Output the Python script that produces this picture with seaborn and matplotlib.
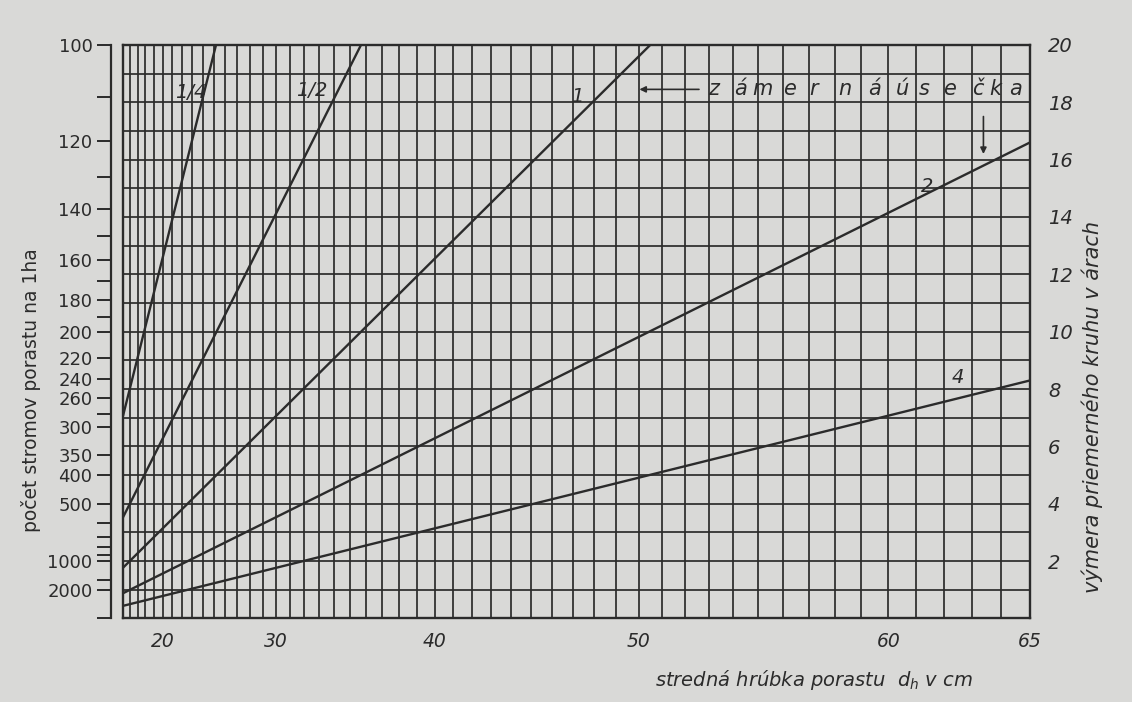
"""
plot.py
Nomogram: number of trees per ha vs. mean stand diameter, with the
area of the average sample circle on the right.
"""
import numpy as np
import pandas as pd
import matplotlib
matplotlib.use('Agg')
import matplotlib.pyplot as plt
import seaborn as sns
from matplotlib.ticker import FixedLocator, FixedFormatter, NullFormatter

# --- data --------------------------------------------------------------
# straight lines (in the nomogram scales): start / end points
line_labels = ['1/4', '1/2', '1', '2', '4']
line_d_start = [15, 15, 15, 15, 15]
line_a_start = [7.07, 3.53, 1.77, 0.88, 0.44]
line_d_end = [25.2, 35.7, 50.5, 65, 65]
line_a_end = [20, 20, 20, 16.6, 8.3]

# where the line labels sit
label_d = [22.9, 32.5, 47.2, 61.4, 62.5]
label_a = [18.35, 18.4, 18.2, 15.05, 8.4]

# left axis: trees per ha (placed at 2000 / N on the area scale)
n_major = [100, 120, 140, 160, 180, 200, 220, 240, 260, 300, 350, 400, 500, 1000, 2000]
n_minor = [110, 130, 150, 170, 190, 280, 600, 700, 800, 900, 1500]

# right axis: area of the circle in ares
area_ticks = list(range(0, 21))
area_labels = [str(a) if a % 2 == 0 and a > 0 else '' for a in area_ticks]

# bottom axis: mean diameter in cm
d_ticks = [20, 30, 40, 50, 60, 65]
d_grid = list(range(15, 66))

# "zámerná úsečka" written cell by cell
sight_letters = list('zámernáúsečka')
sight_d = [53.2, 54.3, 55.2, 56.25, 57.2, 58.4, 59.5, 60.5, 61.3, 62.2, 63.2, 63.8, 64.5]
sight_a = 18.45

ink = '#2b2b2b'
paper = '#d9d9d7'

sns.set_style('white')
plt.rcParams['font.family'] = ['DejaVu Sans']
plt.rcParams['mathtext.fontset'] = 'dejavusans'

df = pd.DataFrame({
    'line': line_labels * 2,
    'd': line_d_start + line_d_end,
    'A': line_a_start + line_a_end,
})

fig = plt.figure(figsize=(11.32, 7.02), dpi=100, facecolor=paper)
ax = fig.add_axes([0.1087, 0.119, 0.8012, 0.817])
ax.set_facecolor(paper)

sns.lineplot(data=df, x='d', y='A', units='line', estimator=None,
             color=ink, lw=1.7, ax=ax, legend=False, zorder=3)

# diameter axis is linear in d^2
ax.set_xscale('function', functions=(lambda d: d ** 2,
                                     lambda v: np.sqrt(np.clip(v, 0, None))))
ax.set_xlim(15, 65)
ax.set_ylim(0, 20)
ax.set_xlabel('')
ax.set_ylabel('')

ax.xaxis.set_major_locator(FixedLocator(d_ticks))
ax.xaxis.set_major_formatter(FixedFormatter([str(d) for d in d_ticks]))
ax.xaxis.set_minor_locator(FixedLocator(d_grid))
ax.xaxis.set_minor_formatter(NullFormatter())
ax.tick_params(axis='x', which='both', length=0, pad=10, labelsize=13.5, colors=ink)
for t in ax.get_xticklabels():
    t.set_style('italic')

ax.grid(True, which='both', axis='x', color=ink, lw=1.25)

# twin axis carries the tree-count scale on an offset left spine
ax_n = ax.twinx()
ax_n.set_ylim(0, 20)
ax_n.yaxis.tick_left()
for s in ['right', 'top', 'bottom']:
    ax_n.spines[s].set_visible(False)
ax_n.spines['left'].set_visible(True)
ax_n.spines['left'].set_position(('outward', 9))
ax_n.spines['left'].set_color(ink)
ax_n.spines['left'].set_linewidth(1.6)
ax_n.yaxis.set_major_locator(FixedLocator([2000 / n for n in n_major]))
ax_n.yaxis.set_major_formatter(FixedFormatter([str(n) for n in n_major]))
ax_n.yaxis.set_minor_locator(FixedLocator([2000 / n for n in n_minor] + [0]))
ax_n.tick_params(axis='y', which='both', direction='out', length=10, width=1.4,
                 color=ink, labelcolor=ink, labelsize=13, pad=3)

# area scale on the right
ax.yaxis.tick_right()
ax.yaxis.set_major_locator(FixedLocator(area_ticks))
ax.yaxis.set_major_formatter(FixedFormatter(area_labels))
ax.tick_params(axis='y', length=0, pad=13, labelsize=14, colors=ink)
for t in ax.get_yticklabels():
    t.set_style('italic')
ax.grid(True, which='major', axis='y', color=ink, lw=1.25)

for s in ax.spines.values():
    s.set_visible(True)
    s.set_color(ink)
    s.set_linewidth(1.7)

# line labels
for lab, d, a in zip(line_labels, label_d, label_a):
    ax.text(d, a, lab, style='italic', fontsize=14, color=ink,
            ha='center', va='center', zorder=4)

# sighting-bar note
for ch, d in zip(sight_letters, sight_d):
    ax.text(d, sight_a, ch, style='italic', fontsize=15, color=ink,
            ha='center', va='center', zorder=4)
ax.annotate('', xy=(49.9, sight_a), xytext=(52.7, sight_a),
            arrowprops=dict(arrowstyle='-|>', color=ink, lw=1.2, mutation_scale=9))
ax.annotate('', xy=(63.4, 16.1), xytext=(63.4, 17.6),
            arrowprops=dict(arrowstyle='-|>', color=ink, lw=1.2, mutation_scale=9))

# axis titles
fig.text(0.027, 0.444, 'počet stromov porastu na 1ha', rotation=90,
         fontsize=13.5, color=ink, ha='center', va='center')
fig.text(0.9647, 0.42, 'výmera priemerného kruhu v árach', rotation=90,
         fontsize=15, style='italic', color=ink, ha='center', va='center')
fig.text(0.719, 0.031, r'stredná hrúbka porastu  $d_h$ v cm',
         fontsize=14, style='italic', color=ink, ha='center', va='center')

fig.savefig('out.png', dpi=100, facecolor=paper)
